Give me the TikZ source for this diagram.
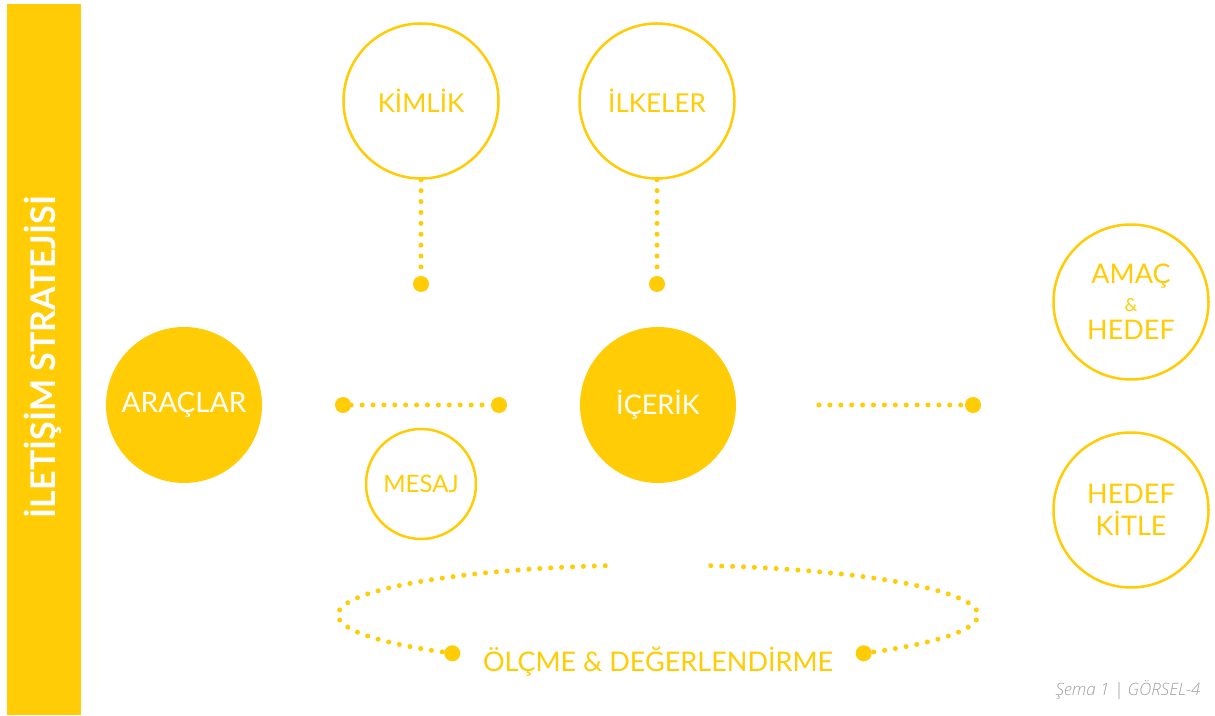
\documentclass[tikz,border=0pt]{standalone}
\usepackage{fontspec}
\setmainfont{Lato}
\IfFontExistsTF{Open Sans Light}{\newfontfamily\capfont{Open Sans Light}}{\newfontfamily\capfont{Open Sans}}
\usetikzlibrary{calc}

\definecolor{sari}{HTML}{FFCC05}
\definecolor{gri}{HTML}{A0A0A0}

\tikzset{
    halka/.style={circle, draw=sari, line width=2.5pt, minimum size=155pt, inner sep=0pt, text=sari, font=\fontsize{26}{30}\selectfont, align=center},
    dolu/.style={circle, fill=sari, minimum size=156pt, inner sep=0pt, text=white, font=\fontsize{28}{32}\selectfont},
    iri/.style={circle, fill=sari, minimum size=16pt, inner sep=0pt},
    noktali/.style={sari, line width=5pt, line cap=round, dash pattern=on 0pt off 10.9pt}
}

\begin{document}
\begin{tikzpicture}[x=1pt, y=1pt]
\useasboundingbox (0,0) rectangle (1215,715);

% sol bant
\fill[sari] (7,0) rectangle (81,711);
\node[rotate=90, text=white, font=\fontsize{34}{38}\bfseries\selectfont] (baslik) at (43,358) {İLETİŞİM STRATEJİSİ};

\node[halka] (kimlik) at (421,614) {KİMLİK};
\node[halka] (ilkeler) at (657,614) {İLKELER};

\node[dolu] (araclar) at (184,310) {ARAÇLAR};
\node[dolu, font=\fontsize{27}{31}\selectfont] (icerik) at (658,310) {İÇERİK};

\node[halka, minimum size=110pt, font=\fontsize{24}{28}\selectfont] (mesaj) at (421,231) {MESAJ};

\node[halka, font=\fontsize{27}{32}\selectfont] (amac) at (1131,413) {AMAÇ\\[-4pt]{\fontsize{18}{20}\selectfont \&}\\[-4pt]HEDEF};
\node[halka, font=\fontsize{27}{32}\selectfont] (kitle) at (1131,205) {HEDEF\\KİTLE};

\node[iri] (kimlikuc) at (421,431) {};
\node[iri] (ilkeleruc) at (657,431) {};
\draw[noktali] (kimlik.south) -- (kimlikuc);
\draw[noktali] (ilkeler.south) -- (ilkeleruc);

\node[iri] (aracA) at (343,310) {};
\node[iri] (aracB) at (499,310) {};
\draw[noktali] (aracA) -- (aracB);

\coordinate (hedefbas) at (819,310);
\node[iri] (hedefuc) at (973,310) {};
\draw[noktali] (hedefbas) -- (hedefuc);

% olcme halkasi
\coordinate (merkez) at (658,100);
\node[iri] (olcA) at ($(merkez)+(230:320 and 50)$) {};
\node[iri] (olcB) at ($(merkez)+(310:320 and 50)$) {};
\draw[noktali] ($(merkez)+(99.5:320 and 50)$) arc[start angle=99.5, end angle=230, x radius=320, y radius=50];
\draw[noktali] ($(merkez)+(80.5:320 and 50)$) arc[start angle=80.5, end angle=-50, x radius=320, y radius=50];
\node[text=sari, font=\fontsize{27}{31}\selectfont] (olcme) at (658,53) {ÖLÇME \& DEĞERLENDİRME};

\node[anchor=east, text=gri, font=\capfont\itshape\fontsize{17}{19}\selectfont] (sema) at (1204,25) {Şema 1 | GÖRSEL-4};
\end{tikzpicture}
\end{document}
